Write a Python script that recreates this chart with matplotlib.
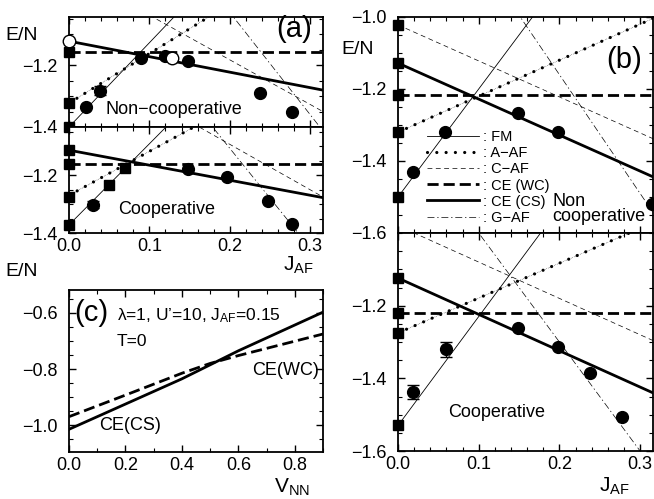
import matplotlib
matplotlib.use("Agg")
import matplotlib.pyplot as plt
from matplotlib.ticker import MultipleLocator

plt.rcParams['font.family'] = ['Liberation Sans', 'DejaVu Sans']
plt.rcParams['mathtext.fontset'] = 'custom'
plt.rcParams['mathtext.rm'] = 'Liberation Sans'
plt.rcParams['mathtext.it'] = 'Liberation Sans'

# J_AF end points of the straight energy lines
jaf_ends = [0.0, 0.32]

# panel (a), non-cooperative
a_nc_fm = [-1.400, -0.530]
a_nc_aaf = [-1.323, -0.811]
a_nc_caf = [-0.895, -1.356]
a_nc_cewc = [-1.157, -1.157]
a_nc_cecs = [-1.123, -1.283]
a_nc_gaf = [-0.370, -1.426]
a_nc_sq = [-1.157, -1.323, -1.400]
a_nc_open_j = [0.0, 0.128]
a_nc_open_e = [-1.123, -1.177]
a_nc_circ_j = [0.021, 0.039, 0.090, 0.119, 0.148, 0.237, 0.278]
a_nc_circ_e = [-1.337, -1.283, -1.177, -1.170, -1.187, -1.290, -1.350]
a_nc_circ_err = [0.0, 0.015, 0.0, 0.0, 0.0, 0.0, 0.0]

# panel (a), cooperative
a_c_fm = [-1.372, -0.476]
a_c_aaf = [-1.270, -0.784]
a_c_caf = [-0.780, -1.282]
a_c_cewc = [-1.162, -1.162]
a_c_cecs = [-1.114, -1.280]
a_c_gaf = [-0.420, -1.520]
a_c_sq_j = [0.0, 0.0, 0.0, 0.0, 0.05, 0.07]
a_c_sq_e = [-1.114, -1.162, -1.276, -1.372, -1.234, -1.176]
a_c_circ_j = [0.030, 0.148, 0.197, 0.247, 0.277]
a_c_circ_e = [-1.303, -1.180, -1.207, -1.290, -1.370]
a_c_circ_err = [0.012, 0.0, 0.0, 0.0, 0.0]

# panel (b), non-cooperative
b_nc_fm = [-1.500, -0.540]
b_nc_aaf = [-1.320, -1.000]
b_nc_caf = [-1.022, -1.342]
b_nc_cewc = [-1.217, -1.217]
b_nc_cecs = [-1.128, -1.448]
b_nc_gaf = [-0.500, -1.556]
b_nc_sq = [-1.022, -1.128, -1.217, -1.320, -1.500]
b_nc_circ_j = [0.019, 0.058, 0.149, 0.198, 0.315]
b_nc_circ_e = [-1.430, -1.320, -1.267, -1.320, -1.520]

# panel (b), cooperative
b_c_fm = [-1.530, -0.570]
b_c_aaf = [-1.275, -0.968]
b_c_caf = [-0.980, -1.300]
b_c_cewc = [-1.220, -1.220]
b_c_cecs = [-1.124, -1.444]
b_c_gaf = [-0.700, -1.660]
b_c_sq = [-1.124, -1.220, -1.275, -1.529]
b_c_circ_j = [0.019, 0.059, 0.149, 0.198, 0.238, 0.277]
b_c_circ_e = [-1.438, -1.320, -1.262, -1.314, -1.386, -1.507]
b_c_circ_err = [0.020, 0.020, 0.0, 0.0, 0.0, 0.0]

# panel (c)
vnn = [0.0, 0.2, 0.4, 0.5, 0.6, 0.9]
c_cs = [-1.015, -0.925, -0.835, -0.785, -0.735, -0.597]
c_wc = [-0.970, -0.893, -0.815, -0.780, -0.752, -0.675]

W, H = 654, 499
fig = plt.figure(figsize=(6.54, 4.99), dpi=100)


def box(x0, y0, x1, y1):
    return [x0 / W, 1 - y1 / H, (x1 - x0) / W, (y1 - y0) / H]


def style(ax, xmaj, xmin, ymaj, ymin):
    ax.xaxis.set_major_locator(MultipleLocator(xmaj))
    ax.xaxis.set_minor_locator(MultipleLocator(xmin))
    ax.yaxis.set_major_locator(MultipleLocator(ymaj))
    ax.yaxis.set_minor_locator(MultipleLocator(ymin))
    ax.tick_params(which='both', direction='in', top=True, right=True, labelsize=13)
    ax.tick_params(which='major', length=5, width=1)
    ax.tick_params(which='minor', length=3, width=0.8)
    ax.tick_params(axis='y', which='major', pad=8)
    for s in ax.spines.values():
        s.set_linewidth(1.3)


def phases(ax, fm, aaf, caf, cewc, cecs, gaf):
    ax.plot(jaf_ends, fm, color='k', lw=0.6, label=': FM')
    ax.plot(jaf_ends, aaf, color='k', lw=0.4, ls=(0, (1, 2)))
    ax.plot(jaf_ends, aaf, color='k', lw=2.3, ls=(0, (0.01, 2.9)),
            dash_capstyle='round', label=': A\u2212AF')
    ax.plot(jaf_ends, caf, color='k', lw=0.5, ls=(0, (7, 5)), label=': C\u2212AF')
    ax.plot(jaf_ends, cewc, color='k', lw=2.0, ls=(0, (4, 1.8)), label=': CE (WC)')
    ax.plot(jaf_ends, cecs, color='k', lw=2.0, label=': CE (CS)')
    ax.plot(jaf_ends, gaf, color='k', lw=0.5, ls=(0, (10, 4, 2, 4)), label=': G\u2212AF')


def squares(ax, j, e):
    ax.plot(j, e, 's', color='k', ms=7, clip_on=False, zorder=5)


def circles(ax, j, e, err=None):
    if err is None:
        ax.plot(j, e, 'o', color='k', ms=8.5, clip_on=False, zorder=5)
    else:
        ax.errorbar(j, e, yerr=err, fmt='o', color='k', ms=8.5, capsize=4,
                    elinewidth=1, clip_on=False, zorder=5)


# (a) non-cooperative
ax1 = fig.add_axes(box(69, 17, 323, 127))
phases(ax1, a_nc_fm, a_nc_aaf, a_nc_caf, a_nc_cewc, a_nc_cecs, a_nc_gaf)
squares(ax1, [0.0] * len(a_nc_sq), a_nc_sq)
circles(ax1, a_nc_circ_j, a_nc_circ_e, a_nc_circ_err)
ax1.plot(a_nc_open_j, a_nc_open_e, 'o', mfc='white', mec='k', mew=1, ms=9,
         clip_on=False, zorder=6)
ax1.set_xlim(0, 0.316)
ax1.set_ylim(-1.4, -1.045)
style(ax1, 0.1, 0.02, 0.2, 0.05)
ax1.set_yticks([-1.2, -1.4])
ax1.set_yticklabels(['\u22121.2', '\u22121.4'])
ax1.tick_params(labelbottom=False)
ax1.text(0.045, -1.345, 'Non\u2212cooperative', fontsize=13, va='center')
ax1.text(0.302, -1.085, '(a)', fontsize=21, ha='right', va='center')

# (a) cooperative
ax2 = fig.add_axes(box(69, 127, 323, 233))
phases(ax2, a_c_fm, a_c_aaf, a_c_caf, a_c_cewc, a_c_cecs, a_c_gaf)
squares(ax2, a_c_sq_j, a_c_sq_e)
circles(ax2, a_c_circ_j, a_c_circ_e, a_c_circ_err)
ax2.set_xlim(0, 0.316)
ax2.set_ylim(-1.4, -1.034)
style(ax2, 0.1, 0.02, 0.2, 0.05)
ax2.set_yticks([-1.2, -1.4])
ax2.set_yticklabels(['\u22121.2', '\u22121.4'])
ax2.set_xticks([0.0, 0.1, 0.2, 0.3])
ax2.set_xticklabels(['0.0', '0.1', '0.2', '0.3'])
ax2.text(0.061, -1.32, 'Cooperative', fontsize=13, va='center')

# (c)
ax3 = fig.add_axes(box(69, 290, 323, 452))
ax3.plot(vnn, c_cs, color='k', lw=2.0)
ax3.plot(vnn, c_wc, color='k', lw=2.0, ls=(0, (4, 1.8)))
ax3.set_xlim(0, 0.9)
ax3.set_ylim(-1.096, -0.518)
style(ax3, 0.2, 0.1, 0.2, 0.05)
ax3.set_yticks([-0.6, -0.8, -1.0])
ax3.set_yticklabels(['\u22120.6', '\u22120.8', '\u22121.0'])
ax3.set_xticks([0.0, 0.2, 0.4, 0.6, 0.8])
ax3.set_xticklabels(['0.0', '0.2', '0.4', '0.6', '0.8'])
ax3.text(0.02, -0.6, '(c)', fontsize=21, va='center')
ax3.text(0.17, -0.608, "\u03bb=1, U\u2019=10, $\\mathrm{J_{AF}}$=0.15", fontsize=12.5, va='center')
ax3.text(0.17, -0.7, 'T=0', fontsize=12.5, va='center')
ax3.text(0.885, -0.805, 'CE(WC)', fontsize=13, ha='right', va='center')
ax3.text(0.105, -1.0, 'CE(CS)', fontsize=13, va='center')

# (b) non-cooperative
ax4 = fig.add_axes(box(398, 17, 653, 233))
phases(ax4, b_nc_fm, b_nc_aaf, b_nc_caf, b_nc_cewc, b_nc_cecs, b_nc_gaf)
squares(ax4, [0.0] * len(b_nc_sq), b_nc_sq)
circles(ax4, b_nc_circ_j, b_nc_circ_e)
ax4.set_xlim(0, 0.316)
ax4.set_ylim(-1.6, -1.0)
style(ax4, 0.1, 0.02, 0.2, 0.05)
ax4.set_yticks([-1.0, -1.2, -1.4, -1.6])
ax4.set_yticklabels(['\u22121.0', '\u22121.2', '\u22121.4', '\u22121.6'])
ax4.tick_params(labelbottom=False)
ax4.text(0.302, -1.12, '(b)', fontsize=21, ha='right', va='center')
ax4.text(0.191, -1.533, 'Non\ncooperative', fontsize=13, ha='left', va='center',
         linespacing=0.9)
ax4.legend(loc='upper left', bbox_to_anchor=(0.113, 0.475), frameon=False,
           fontsize=10.5, handlelength=3.6, handletextpad=0.25, labelspacing=0.14,
           borderpad=0, borderaxespad=0)

# (b) cooperative
ax5 = fig.add_axes(box(398, 233, 653, 451))
phases(ax5, b_c_fm, b_c_aaf, b_c_caf, b_c_cewc, b_c_cecs, b_c_gaf)
squares(ax5, [0.0] * len(b_c_sq), b_c_sq)
circles(ax5, b_c_circ_j, b_c_circ_e, b_c_circ_err)
ax5.set_xlim(0, 0.316)
ax5.set_ylim(-1.6, -1.0)
style(ax5, 0.1, 0.02, 0.2, 0.05)
ax5.set_yticks([-1.2, -1.4, -1.6])
ax5.set_yticklabels(['\u22121.2', '\u22121.4', '\u22121.6'])
ax5.set_xticks([0.0, 0.1, 0.2, 0.3])
ax5.set_xticklabels(['0.0', '0.1', '0.2', '0.3'])
ax5.text(0.062, -1.495, 'Cooperative', fontsize=13, va='center')

# axis titles placed as free text, like the original
fig.text(22 / W, 1 - 36 / H, 'E/N', fontsize=14, ha='center', va='center')
fig.text(358 / W, 1 - 50 / H, 'E/N', fontsize=14, ha='center', va='center')
fig.text(22 / W, 1 - 272 / H, 'E/N', fontsize=14, ha='center', va='center')
fig.text(298 / W, 1 - 265 / H, '$\\mathrm{J_{AF}}$', fontsize=15, ha='center', va='center')
fig.text(614 / W, 1 - 486 / H, '$\\mathrm{J_{AF}}$', fontsize=15, ha='center', va='center')
fig.text(292 / W, 1 - 487 / H, '$\\mathrm{V_{NN}}$', fontsize=15, ha='center', va='center')

fig.savefig('out.png', dpi=100)
